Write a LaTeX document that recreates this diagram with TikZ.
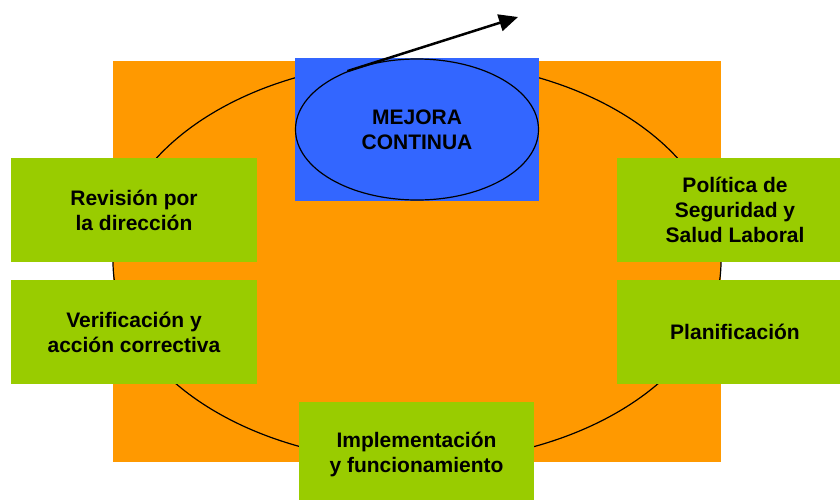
\documentclass[tikz,border=0pt]{standalone}
\usepackage{fontspec}
\setmainfont{Liberation Sans}
\usetikzlibrary{arrows.meta,shapes.geometric}
\definecolor{naranja}{HTML}{FF9900}
\definecolor{azul}{HTML}{3366FF}
\definecolor{verde}{HTML}{99CC00}

\begin{document}
\begin{tikzpicture}[x=1pt, y=-1pt,
    texto/.style={align=center, font=\fontsize{21}{25}\selectfont\bfseries},
    caja/.style={rectangle, fill=verde, inner sep=0pt, texto}]
    \clip (0, 0) rectangle (840, 499);
    \node[rectangle, fill=naranja, minimum width=608pt, minimum height=401pt, inner sep=0pt] (fondo) at (417, 261.5) {};
    \node[ellipse, draw, line width=1.2pt, minimum width=608pt, minimum height=401pt, inner sep=0pt] (ciclo) at (fondo.center) {};
    \node[rectangle, fill=azul, minimum width=244pt, minimum height=143pt, inner sep=0pt] (marco) at (417, 129.5) {};
    \node[ellipse, draw, line width=1.2pt, minimum width=243pt, minimum height=141pt, inner sep=0pt, texto] (mejora) at (marco.center) {MEJORA\\CONTINUA};
    \coordinate (meta) at (518, 17);
    \draw[line width=2.5pt, -{Triangle[length=19pt, width=17pt]}] (mejora.140) -- (meta);
    \node[caja, minimum width=246pt, minimum height=104pt] (revision) at (134, 210) {Revisión por\\la dirección};
    \node[caja, minimum width=246pt, minimum height=104pt] (verificacion) at (134, 332) {Verificación y\\acción correctiva};
    \node[caja, minimum width=236pt, minimum height=104pt] (politica) at (735, 210) {Política de\\Seguridad y\\Salud Laboral};
    \node[caja, minimum width=236pt, minimum height=104pt] (planificacion) at (735, 332) {Planificación};
    \node[caja, minimum width=235pt, minimum height=104pt] (implementacion) at (416.5, 454) {Implementación\\y funcionamiento};
\end{tikzpicture}
\end{document}
